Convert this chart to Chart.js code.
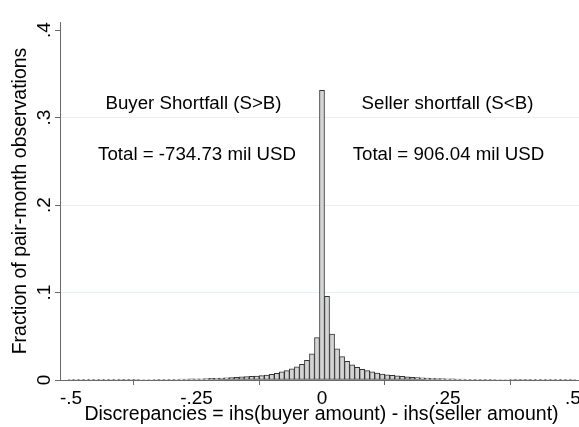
<!DOCTYPE html>
<html>
<head>
<meta charset="utf-8">
<script src="https://cdn.jsdelivr.net/npm/chart.js@4/dist/chart.umd.min.js"></script>
<style>
  html, body { margin: 0; padding: 0; background: #fff; overflow: hidden; }
  #wrap { width: 600px; height: 427px; }
</style>
</head>
<body>
<div id="wrap"><canvas id="hc" width="600" height="427"></canvas></div>
<script>
'use strict';

// Histogram of discrepancies, bin width .01, bins centred on multiples of .01
const BIN_CENTERS = [
  -0.50, -0.49, -0.48, -0.47, -0.46, -0.45, -0.44, -0.43, -0.42, -0.41,
  -0.40, -0.39, -0.38, -0.37, -0.36, -0.35, -0.34, -0.33, -0.32, -0.31,
  -0.30, -0.29, -0.28, -0.27, -0.26, -0.25, -0.24, -0.23, -0.22, -0.21,
  -0.20, -0.19, -0.18, -0.17, -0.16, -0.15, -0.14, -0.13, -0.12, -0.11,
  -0.10, -0.09, -0.08, -0.07, -0.06, -0.05, -0.04, -0.03, -0.02, -0.01,
   0.00,
   0.01,  0.02,  0.03,  0.04,  0.05,  0.06,  0.07,  0.08,  0.09,  0.10,
   0.11,  0.12,  0.13,  0.14,  0.15,  0.16,  0.17,  0.18,  0.19,  0.20,
   0.21,  0.22,  0.23,  0.24,  0.25,  0.26,  0.27,  0.28,  0.29,  0.30,
   0.31,  0.32,  0.33,  0.34,  0.35,  0.36,  0.37,  0.38,  0.39,  0.40,
   0.41,  0.42,  0.43,  0.44,  0.45,  0.46,  0.47,  0.48,  0.49,  0.50
];
const FRACTIONS = [
  0.0003, 0.0003, 0.0003, 0.0003, 0.0003, 0.0004, 0.0004, 0.0004, 0.0004, 0.0004,
  0.0005, 0.0005, 0.0005, 0.0005, 0.0006, 0.0006, 0.0006, 0.0007, 0.0007, 0.0008,
  0.0008, 0.0009, 0.0010, 0.0011, 0.0012, 0.0013, 0.0014, 0.0016, 0.0018, 0.0020,
  0.0022, 0.0025, 0.0028, 0.0031, 0.0036, 0.0039, 0.0042, 0.0046, 0.0050, 0.0057,
  0.0066, 0.0077, 0.0092, 0.0107, 0.0127, 0.0150, 0.0180, 0.0226, 0.0300, 0.0485,
  0.3310,
  0.0955, 0.0525, 0.0355, 0.0267, 0.0214, 0.0172, 0.0145, 0.0122, 0.0107, 0.0092,
  0.0080, 0.0069, 0.0060, 0.0053, 0.0047, 0.0041, 0.0036, 0.0031, 0.0027, 0.0024,
  0.0021, 0.0019, 0.0017, 0.0015, 0.0013, 0.0012, 0.0011, 0.0010, 0.0009, 0.0008,
  0.0008, 0.0007, 0.0007, 0.0007, 0.0006, 0.0006, 0.0006, 0.0005, 0.0005, 0.0005,
  0.0005, 0.0004, 0.0004, 0.0004, 0.0004, 0.0004, 0.0003, 0.0003, 0.0003, 0.0003
];
const X_TICKS = [-0.5, -0.25, 0, 0.25, 0.5];
const X_TICK_LABELS = ['-.5', '-.25', '0', '.25', '.5'];
const Y_TICKS = [0, 0.1, 0.2, 0.3, 0.4];
const Y_TICK_LABELS = ['0', '.1', '.2', '.3', '.4'];
const NOTE_TEXTS = ['Buyer Shortfall (S>B)', 'Total = -734.73 mil USD',
                    'Seller shortfall (S<B)', 'Total = 906.04 mil USD'];

const FONT = '"Liberation Sans", Arial, sans-serif';
const AXIS_COLOR = '#6a6a6a';
// where the notes sit, in data units
const NOTE_POS = [[-0.256, 0.316], [-0.249, 0.257], [0.250, 0.316], [0.252, 0.257]];

// text notes + rotated y tick labels (Stata style)
const textPlugin = {
  id: 'stataText',
  afterDraw(chart) {
    const {ctx, scales: {x, y}} = chart;
    ctx.save();
    ctx.fillStyle = '#000';
    ctx.font = '18.7px ' + FONT;
    ctx.textAlign = 'center';
    ctx.textBaseline = 'middle';
    NOTE_TEXTS.forEach((t, i) => {
      ctx.fillText(t, x.getPixelForValue(NOTE_POS[i][0]), y.getPixelForValue(NOTE_POS[i][1]));
    });
    ctx.font = '19px ' + FONT;
    ctx.textBaseline = 'alphabetic';
    Y_TICKS.forEach((v, i) => {
      ctx.save();
      ctx.translate(y.left + 50, y.getPixelForValue(v));
      ctx.rotate(-Math.PI / 2);
      ctx.fillText(Y_TICK_LABELS[i], 0, 0);
      ctx.restore();
    });
    ctx.restore();
  },
};

const ctx = document.getElementById('hc').getContext('2d');
const histChart = new Chart(ctx, {
  type: 'bar',
  data: {
    datasets: [{
      data: BIN_CENTERS.map((c, i) => ({x: c, y: FRACTIONS[i]})),
      backgroundColor: '#d4d4d4',
      borderColor: '#333333',
      borderWidth: 1,
      borderSkipped: false,
      barPercentage: 1,
      categoryPercentage: 1,
    }],
  },
  plugins: [textPlugin],
  options: {
    responsive: false,
    animation: false,
    devicePixelRatio: 1,
    layout: {padding: {top: 22, right: 17, left: 0, bottom: 0}},
    plugins: {legend: {display: false}, tooltip: {enabled: false}},
    scales: {
      x: {
        type: 'linear',
        min: -0.522, max: 0.52,
        offset: false,
        afterBuildTicks: s => { s.ticks = X_TICKS.map(v => ({value: v})); },
        afterFit: s => { s.height = 47; },
        ticks: {
          color: '#000', padding: 2, maxRotation: 0, autoSkip: false,
          font: {family: FONT, size: 19},
          callback: (v) => X_TICK_LABELS[X_TICKS.indexOf(v)],
        },
        grid: {drawOnChartArea: false, tickLength: 5, tickColor: AXIS_COLOR},
        border: {display: true, color: AXIS_COLOR, width: 1},
        title: {
          display: true, color: '#000',
          text: 'Discrepancies = ihs(buyer amount) - ihs(seller amount)',
          font: {family: FONT, size: 19.5}, padding: {top: 0, bottom: 1},
        },
      },
      y: {
        min: 0, max: 0.4092,
        afterBuildTicks: s => { s.ticks = Y_TICKS.map(v => ({value: v})); },
        afterFit: s => { s.width = 60; },
        ticks: {display: false},
        grid: {
          tickLength: 5, tickColor: AXIS_COLOR,
          color: c => (c.tick && c.tick.value > 0 && c.tick.value < 0.4) ? '#e6eff1' : 'rgba(0,0,0,0)',
        },
        border: {display: true, color: AXIS_COLOR, width: 1},
        title: {
          display: true, color: '#000',
          text: 'Fraction of pair-month observations',
          font: {family: FONT, size: 19.5}, padding: {top: 9, bottom: 0},
        },
      },
    },
  },
});
</script>
</body>
</html>
